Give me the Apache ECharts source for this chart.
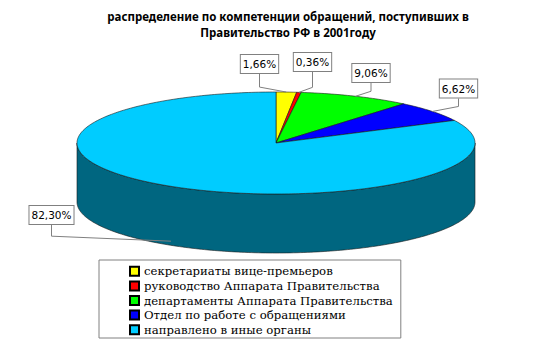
<!DOCTYPE html>
<html><head><meta charset="utf-8">
<script src="https://cdn.jsdelivr.net/npm/echarts@6/dist/echarts.min.js"></script>
<style>html,body{margin:0;padding:0;background:#fff}#c{width:552px;height:344px}</style>
</head><body><div id="c"></div>
<script>
const titleLines = ['распределение по компетенции обращений, поступивших в', 'Правительство РФ в 2001году'];
const categories = ['секретариаты вице-премьеров', 'руководство Аппарата Правительства', 'департаменты Аппарата Правительства', 'Отдел по работе с обращениями', 'направлено в иные органы'];
const values = [1.66, 0.36, 9.06, 6.62, 82.30];
const colors = ['#FFFF00', '#FF0000', '#00FF00', '#0000FF', '#00CCFF'];
const sideColors = ['#808000', '#800000', '#008000', '#000080', '#006680'];
// layout (label box centres, pixels)
const labelBoxes = [[259.5, 64], [312.5, 62], [371, 73], [458.5, 88.5], [51.5, 215]];

const PIE = {cx: 276, cy: 143, rx: 199, ry: 51, depth: 59};
const total = values.reduce((a, b) => a + b, 0);
const starts = [];
values.reduce((acc, v, i) => { starts[i] = acc; return acc + v; }, 0);

function pt(deg, dy) {
  const t = deg * Math.PI / 180;
  return [PIE.cx + PIE.rx * Math.sin(t), PIE.cy - PIE.ry * Math.cos(t) + (dy || 0)];
}
function arc(a, b, dy) {
  const pts = [];
  const n = Math.max(2, Math.ceil(Math.abs(b - a)));
  for (let k = 0; k <= n; k++) pts.push(pt(a + (b - a) * k / n, dy));
  return pts;
}
function fmt(v) { return v.toFixed(2).replace('.', ',') + '%'; }

function makeRender(i) {
  return function (params, api) {
    const v = api.value(0);
    const a = starts[i] / total * 360;
    const b = a + v / total * 360;
    const children = [];
    const lo = Math.max(a, 90), hi = Math.min(b, 270);
    if (hi > lo) {
      const top = arc(lo, hi, 0);
      const bot = arc(hi, lo, PIE.depth);
      children.push({type: 'polygon', z2: 1, shape: {points: top.concat(bot)},
        style: {fill: sideColors[i], stroke: '#1a1a1a', lineWidth: 0.6}});
    }
    children.push({type: 'polygon', z2: 5, shape: {points: [[PIE.cx, PIE.cy]].concat(arc(a, b, 0))},
      style: {fill: colors[i], stroke: '#1a1a1a', lineWidth: 0.6}});
    const mid = (a + b) / 2;
    const front = Math.cos(mid * Math.PI / 180) < -0.3;
    const anc = pt(mid, front ? PIE.depth * 0.93 : 0);
    const box = labelBoxes[i];
    const boxBottom = box[1] + 10;
    children.push({type: 'polyline', z2: 8, shape: {points: [[box[0], boxBottom], [box[0], anc[1] - 5], anc]},
      style: {stroke: '#808080', lineWidth: 1, fill: null}});
    children.push({type: 'text', z2: 9, x: box[0], y: box[1],
      style: {text: fmt(v), align: 'center', verticalAlign: 'middle', fontFamily: 'DejaVu Sans', fontSize: 10.5,
        fill: '#000', backgroundColor: '#fff', borderColor: '#808080', borderWidth: 1, padding: [4, 2, 3, 2]}});
    return {type: 'group', children: children};
  };
}

const series = categories.map((name, i) => ({
  type: 'custom', name: name, coordinateSystem: 'none',
  itemStyle: {color: colors[i], borderColor: '#000', borderWidth: 0.5},
  data: [[values[i]]],
  renderItem: makeRender(i)
}));

const chart = echarts.init(document.getElementById('c'), null, {renderer: 'svg'});
chart.setOption({
  animation: false,
  backgroundColor: '#fff',
  graphic: titleLines.map((t, k) => ({type: 'text', x: 288, y: 16 + k * 16,
    style: {text: t, align: 'center', verticalAlign: 'middle', fontFamily: 'Noto Sans', fontWeight: 'bold', fontSize: 11.5, fill: '#000'}})),
  legend: {
    orient: 'vertical', left: 99, top: 260, padding: [4, 8, 1, 30],
    itemWidth: 9, itemHeight: 9, itemGap: 0, icon: 'rect',
    borderColor: '#808080', borderWidth: 1,
    textStyle: {fontFamily: 'DejaVu Serif', fontSize: 11.7, color: '#000', lineHeight: 14.6},
    data: categories
  },
  series: series
});
</script></body></html>
